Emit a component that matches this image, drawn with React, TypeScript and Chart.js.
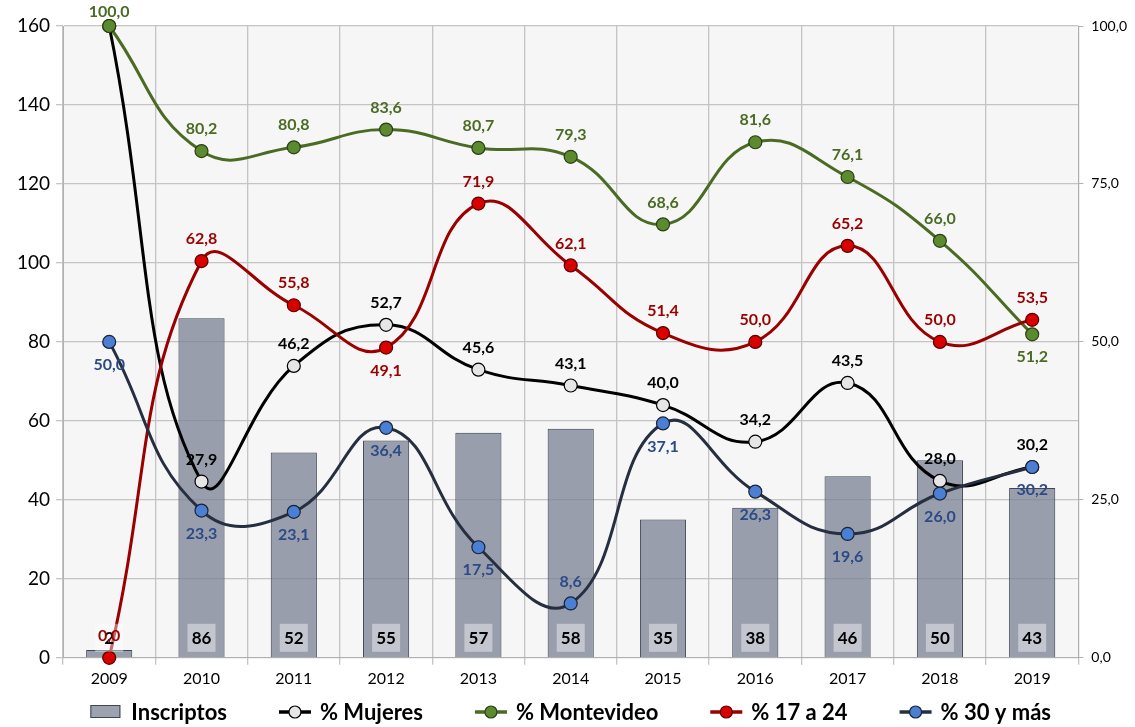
import React, { useEffect, useRef } from "react";
import { Chart, registerables } from "chart.js";
Chart.register(...registerables);

const years = ["2009", "2010", "2011", "2012", "2013", "2014", "2015", "2016", "2017", "2018", "2019"];
const inscriptos = [2, 86, 52, 55, 57, 58, 35, 38, 46, 50, 43];
const pctMujeres = [100, 27.9, 46.2, 52.7, 45.6, 43.1, 40.0, 34.2, 43.5, 28.0, 30.2];
const pctMontevideo = [100, 80.2, 80.8, 83.6, 80.7, 79.3, 68.6, 81.6, 76.1, 66.0, 51.2];
const pct17a24 = [0.0, 62.8, 55.8, 49.1, 71.9, 62.1, 51.4, 50.0, 65.2, 50.0, 53.5];
const pct30ymas = [50.0, 23.3, 23.1, 36.4, 17.5, 8.6, 37.1, 26.3, 19.6, 26.0, 30.2];

// label placement (style only)
const posMujeres = ["none", "up", "up", "up", "up", "up", "up", "up", "up", "up", "up"];
const posMontevideo = ["up", "up", "up", "up", "up", "up", "up", "up", "up", "up", "down"];
const pos17a24 = ["up", "up", "up", "down", "up", "up", "up", "up", "up", "up", "up"];
const pos30ymas = ["down", "down", "down", "down", "down", "up", "down", "down", "down", "down", "down"];

const FONT = "Lato, 'Open Sans', sans-serif";
const fmt = (v: number) => v.toFixed(1).replace(".", ",");

const BAR_FILL = "rgba(122,130,148,0.76)";
const BAR_BORDER = "#3f4554";

export default function App() {
  const ref = useRef<HTMLCanvasElement | null>(null);

  useEffect(() => {
    document.body.style.margin = "0";
    const canvas = ref.current!;

    const lineDefs = [
      { label: "% Mujeres", data: pctMujeres, line: "#000000", fill: "#e6e6e6", border: "#000000", text: "#000000", pos: posMujeres },
      { label: "% Montevideo", data: pctMontevideo, line: "#4a6b24", fill: "#5b8a2f", border: "#2c3e15", text: "#4a6b24", pos: posMontevideo },
      { label: "% 17 a 24", data: pct17a24, line: "#9a0000", fill: "#d90000", border: "#5a0000", text: "#9a0000", pos: pos17a24 },
      { label: "% 30 y más", data: pct30ymas, line: "#262f40", fill: "#4a7fd4", border: "#1a2233", text: "#2c4a86", pos: pos30ymas },
    ];

    const bgPlugin = {
      id: "plotBg",
      beforeDraw(chart: any) {
        const { ctx, chartArea } = chart;
        ctx.save();
        ctx.fillStyle = "#f6f6f6";
        ctx.fillRect(chartArea.left, chartArea.top, chartArea.right - chartArea.left, chartArea.bottom - chartArea.top);
        ctx.restore();
      },
    };

    const labelPlugin = {
      id: "dataLabels",
      afterDatasetsDraw(chart: any) {
        const { ctx } = chart;
        ctx.save();
        ctx.textAlign = "center";
        ctx.textBaseline = "middle";
        const barMeta = chart.getDatasetMeta(0);
        const yScale = chart.scales.y;
        barMeta.data.forEach((el: any, i: number) => {
          const x = el.x;
          const cy = yScale.bottom - 20;
          ctx.fillStyle = "rgba(255,255,255,0.42)";
          ctx.fillRect(x - 14, cy - 14, 28, 28);
          ctx.fillStyle = "#000";
          ctx.font = `bold 17px ${FONT}`;
          ctx.fillText(String(inscriptos[i]), x, cy + 1);
        });
        lineDefs.forEach((d, k) => {
          const meta = chart.getDatasetMeta(k + 1);
          meta.data.forEach((el: any, i: number) => {
            const p = d.pos[i];
            if (p === "none") return;
            let y = p === "up" ? el.y - 22 : el.y + 23;
            if (y < 12) y = 12;
            ctx.font = `bold 16px ${FONT}`;
            ctx.fillStyle = d.text;
            ctx.fillText(fmt(d.data[i]), el.x, y);
          });
        });
        ctx.restore();
      },
    };

    const legendPlugin = {
      id: "customLegend",
      afterDraw(chart: any) {
        const { ctx, chartArea } = chart;
        ctx.save();
        ctx.font = `bold 22px ${FONT}`;
        ctx.textBaseline = "middle";
        ctx.textAlign = "left";
        const names = ["Inscriptos", ...lineDefs.map((d) => d.label)];
        const iconW = 32;
        const gapIconText = 9;
        const gapItems = 52;
        const widths = names.map((n) => iconW + gapIconText + ctx.measureText(n).width);
        const total = widths.reduce((a, b) => a + b, 0) + gapItems * (names.length - 1);
        let x = (chartArea.left + chartArea.right) / 2 - total / 2;
        const cy = 712;
        names.forEach((n, i) => {
          if (i === 0) {
            ctx.fillStyle = "#9ca2ae";
            ctx.fillRect(x, cy - 7, 30, 13);
            ctx.strokeStyle = BAR_BORDER;
            ctx.lineWidth = 1;
            ctx.strokeRect(x + 0.5, cy - 6.5, 29, 12);
          } else {
            const d = lineDefs[i - 1];
            ctx.strokeStyle = d.line;
            ctx.lineWidth = 3.5;
            ctx.beginPath();
            ctx.moveTo(x, cy);
            ctx.lineTo(x + iconW, cy);
            ctx.stroke();
            ctx.beginPath();
            ctx.arc(x + iconW / 2, cy, 6, 0, Math.PI * 2);
            ctx.fillStyle = d.fill;
            ctx.fill();
            ctx.lineWidth = 1.2;
            ctx.strokeStyle = d.border;
            ctx.stroke();
          }
          ctx.fillStyle = "#000";
          ctx.fillText(n, x + iconW + gapIconText, cy + 1);
          x += widths[i] + gapItems;
        });
        ctx.restore();
      },
    };

    const chart = new Chart(canvas, {
      data: {
        labels: years,
        datasets: [
          {
            type: "bar",
            label: "Inscriptos",
            data: inscriptos,
            yAxisID: "y",
            backgroundColor: BAR_FILL,
            borderColor: BAR_BORDER,
            borderWidth: 1,
            barPercentage: 0.5,
            categoryPercentage: 1,
            order: 10,
          } as any,
          ...lineDefs.map((d, k) => ({
            type: "line",
            label: d.label,
            data: d.data,
            yAxisID: "y1",
            borderColor: d.line,
            borderWidth: 3,
            tension: 0.45,
            pointRadius: 6.5,
            pointBackgroundColor: d.fill,
            pointBorderColor: d.border,
            pointBorderWidth: 1.2,
            clip: false,
            order: 5 - k,
          })),
        ],
      } as any,
      options: {
        animation: false,
        responsive: true,
        maintainAspectRatio: false,
        layout: { padding: { top: 26, left: 11, right: 0, bottom: 35 } },
        plugins: {
          tooltip: { enabled: false },
          legend: { display: false },
        },
        scales: {
          x: {
            offset: true,
            grid: { offset: true, color: "#c4c4c4", lineWidth: 1.3, tickLength: 7, drawTicks: true },
            border: { color: "#b0b0b0" },
            ticks: { color: "#000", font: { family: FONT, size: 16 }, padding: 4 },
          },
          y: {
            position: "left",
            min: 0,
            max: 160,
            ticks: { stepSize: 20, color: "#000", font: { family: FONT, size: 19 }, padding: 6 },
            grid: { color: "#c4c4c4", lineWidth: 1.3, tickLength: 7 },
            border: { color: "#b0b0b0" },
          },
          y1: {
            position: "right",
            min: 0,
            max: 100,
            ticks: {
              stepSize: 25,
              color: "#000",
              font: { family: FONT, size: 14 },
              padding: 8,
              callback: (v: any) => fmt(Number(v)),
            },
            grid: { drawOnChartArea: false, color: "#b0b0b0", tickLength: 5 },
            border: { color: "#b0b0b0" },
          },
        },
      } as any,
      plugins: [bgPlugin, labelPlugin, legendPlugin],
    });
    return () => chart.destroy();
  }, []);

  return (
    <div style={{ width: 1135, height: 727, position: "relative" }}>
      <canvas ref={ref} />
    </div>
  );
}
